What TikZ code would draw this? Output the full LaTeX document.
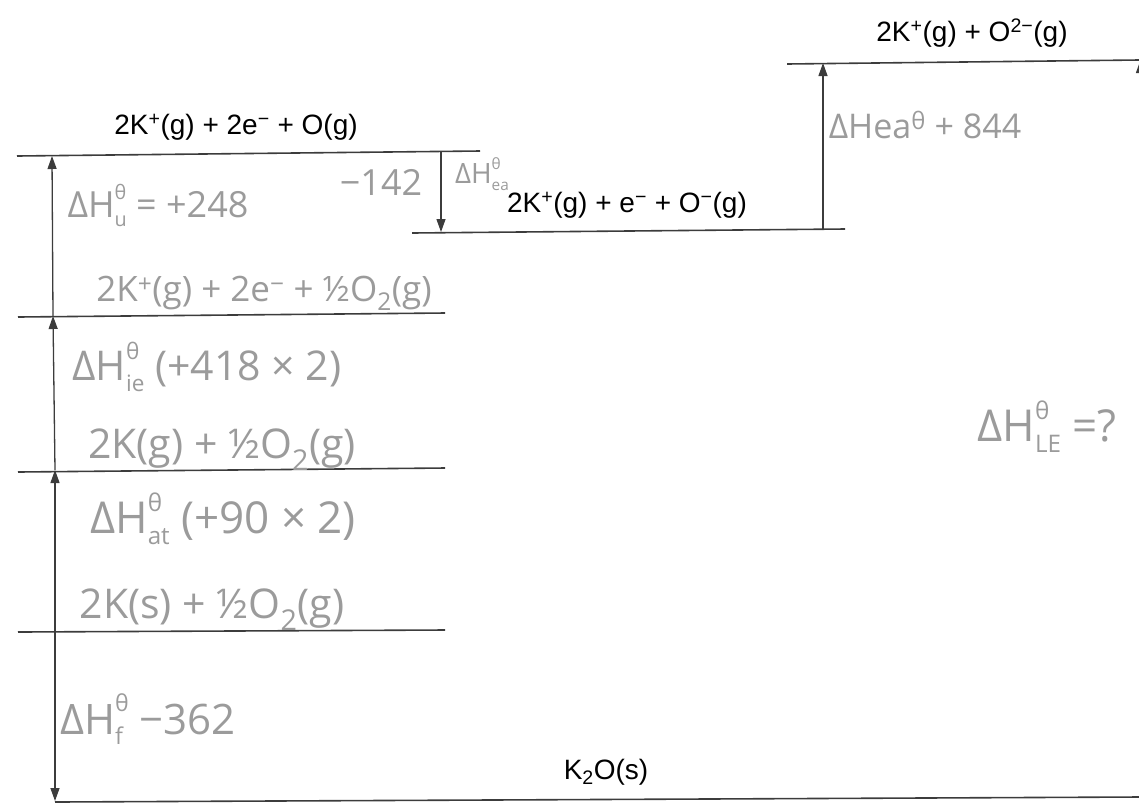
\documentclass[tikz,border=0pt]{standalone}
\usepackage{fontspec}
\usepackage{graphicx}
\setmainfont{Liberation Sans}
\newfontfamily\handfont{Open Sans}
\usetikzlibrary{arrows.meta}
\definecolor{pen}{HTML}{9B9B9B}
\definecolor{ink}{HTML}{3C3C3C}
\newcommand{\dH}[1]{ΔH\raisebox{-0.25em}{\scalebox{0.55}{\begin{tabular}[b]{@{}l@{}}θ\\[0.36em]#1\end{tabular}}}}

\begin{document}
\begin{tikzpicture}[x=1pt, y=-1pt,
  lvl/.style={draw=ink, line width=1.6pt},
  en/.style={draw=ink, line width=1.3pt, -{Triangle[length=13pt,width=9pt]}},
  lbl/.style={font=\fontsize{28}{30}\selectfont, inner sep=0pt},
  hand/.style={text=pen, font=\handfont\fontsize{#1}{#1}\selectfont, inner sep=0pt},
  hand/.default=34
]
  \useasboundingbox (0,0) rectangle (1139,807);

  % energy levels
  \coordinate (aL) at (17,156);  \coordinate (aR) at (480,151);
  \coordinate (bL) at (412,233); \coordinate (bR) at (845,229);
  \coordinate (cL) at (787,64);  \coordinate (cR) at (1139,60);
  \coordinate (dL) at (18,317);  \coordinate (dR) at (445,313);
  \coordinate (eL) at (18,472);  \coordinate (eR) at (445,468);
  \coordinate (fL) at (18,632);  \coordinate (fR) at (445,630);
  \coordinate (gL) at (55,802);  \coordinate (gR) at (1139,797);
  \foreach \l in {a,b,c,d,e,f,g}
    \draw[lvl] (\l L) -- (\l R);

  % arrow ends
  \coordinate (f1) at (55,631);  \coordinate (g1) at (55,801);
  \coordinate (e1) at (55,470);  \coordinate (d1) at (53,316);
  \coordinate (a1) at (52,156);
  \coordinate (a2) at (441,152); \coordinate (b2) at (441,232);
  \coordinate (b3) at (823,230); \coordinate (c3) at (823,63);
  \coordinate (g4) at (1140.5,797); \coordinate (c4) at (1140.5,60);

  \draw[en] (f1) -- (g1);
  \draw[en] (f1) -- (e1);
  \draw[en] (e1) -- (d1);
  \draw[en] (d1) -- (a1);
  \draw[en] (a2) -- (b2);
  \draw[en] (b3) -- (c3);
  \draw[en] (g4) -- (c4);

  \node[lbl] (tA) at (236,127) {2K\textsuperscript{+}(g) + 2e\textsuperscript{−} + O(g)};
  \node[lbl] (tB) at (627,205) {2K\textsuperscript{+}(g) + e\textsuperscript{−} + O\textsuperscript{−}(g)};
  \node[lbl] (tC) at (972,33) {2K\textsuperscript{+}(g) + O\textsuperscript{2−}(g)};
  \node[lbl] (tG) at (606,772) {K\textsubscript{2}O(s)};

  % handwritten notes
  \node[hand=36] (hu) at (158,208) {\dH{u} = +248};
  \node[hand=36] (h142) at (381,182) {−142};
  \node[hand=28] (hea1) at (482,176) {\dH{ea}};
  \node[hand=34] (hea2) at (925,125) {ΔHea\textsuperscript{θ} + 844};
  \node[hand=35] (hd) at (264,293) {2K\textsuperscript{+}(g) + 2e\textsuperscript{−} + ½O\textsubscript{2}(g)};
  \node[hand=41] (hie) at (207,370) {\dH{ie} (+418 × 2)};
  \node[hand=41] (he) at (222,450) {2K(g) + ½O\textsubscript{2}(g)};
  \node[hand=44] (hat) at (223,522) {\dH{at} (+90 × 2)};
  \node[hand=41] (hf) at (212,610) {2K(s) + ½O\textsubscript{2}(g)};
  \node[hand=42] (hfv) at (148,723) {\dH{f} −362};
  \node[hand=44] (hle) at (1047,430) {\dH{LE} =?};
\end{tikzpicture}
\end{document}
